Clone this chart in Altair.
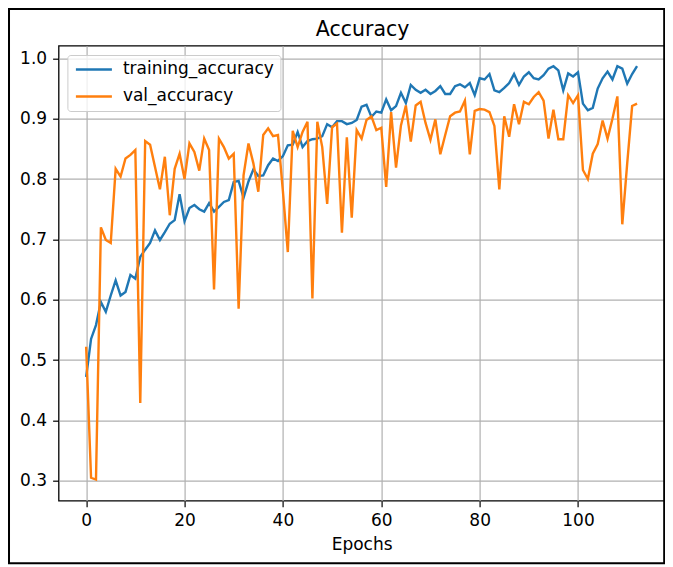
import altair as alt
import pandas as pd

chart_title = "Accuracy"
x_title = "Epochs"

epochs = list(range(113))

training_accuracy = [
    0.472, 0.535, 0.558, 0.596, 0.580, 0.607, 0.632, 0.607, 0.613, 0.641,
    0.635, 0.671, 0.683, 0.694, 0.715, 0.699, 0.712, 0.726, 0.732, 0.775,
    0.730, 0.752, 0.757, 0.750, 0.746, 0.760, 0.746, 0.754, 0.762, 0.765,
    0.795, 0.797, 0.769, 0.796, 0.816, 0.805, 0.806, 0.823, 0.834, 0.830,
    0.838, 0.856, 0.857, 0.878, 0.853, 0.863, 0.866, 0.867, 0.871, 0.891,
    0.886, 0.896, 0.896, 0.891, 0.893, 0.898, 0.920, 0.923, 0.903, 0.912,
    0.910, 0.932, 0.914, 0.921, 0.943, 0.926, 0.956, 0.948, 0.943, 0.948,
    0.941, 0.946, 0.954, 0.941, 0.941, 0.954, 0.957, 0.952, 0.959, 0.939,
    0.967, 0.965, 0.974, 0.947, 0.944, 0.951, 0.959, 0.974, 0.956, 0.970,
    0.977, 0.967, 0.965, 0.972, 0.983, 0.987, 0.980, 0.947, 0.975, 0.970,
    0.977, 0.925, 0.914, 0.918, 0.950, 0.967, 0.978, 0.965, 0.987, 0.983,
    0.958, 0.974, 0.987,
]

val_accuracy = [
    0.522, 0.305, 0.302, 0.720, 0.699, 0.694, 0.817, 0.804, 0.834, 0.840,
    0.848, 0.429, 0.863, 0.857, 0.820, 0.783, 0.837, 0.740, 0.817, 0.842,
    0.800, 0.859, 0.845, 0.814, 0.867, 0.848, 0.617, 0.867, 0.853, 0.834,
    0.842, 0.585, 0.806, 0.859, 0.826, 0.779, 0.873, 0.884, 0.871, 0.873,
    0.780, 0.679, 0.880, 0.853, 0.878, 0.895, 0.602, 0.895, 0.853, 0.759,
    0.886, 0.892, 0.711, 0.869, 0.736, 0.881, 0.867, 0.898, 0.904, 0.881,
    0.885, 0.787, 0.911, 0.819, 0.889, 0.922, 0.862, 0.922, 0.928, 0.893,
    0.865, 0.899, 0.841, 0.873, 0.904, 0.910, 0.912, 0.930, 0.841, 0.913,
    0.916, 0.915, 0.911, 0.888, 0.783, 0.904, 0.870, 0.924, 0.891, 0.928,
    0.924, 0.936, 0.944, 0.930, 0.867, 0.915, 0.866, 0.866, 0.939, 0.926,
    0.939, 0.815, 0.800, 0.842, 0.858, 0.897, 0.867, 0.900, 0.937, 0.725,
    0.826, 0.921, 0.925,
]

series_names = ["training_accuracy", "val_accuracy"]
series_colors = ["#1f77b4", "#ff7f0e"]
x_ticks = [0, 20, 40, 60, 80, 100]
y_ticks = [0.3, 0.4, 0.5, 0.6, 0.7, 0.8, 0.9, 1.0]

n = len(epochs)
df = pd.DataFrame({
    "epoch": epochs + epochs,
    "accuracy": training_accuracy + val_accuracy,
    "series": [series_names[0]] * n + [series_names[1]] * n,
})

FONT = "DejaVu Sans"
PLOT_W = 606
PLOT_H = 455

lines = alt.Chart(df).mark_line(strokeWidth=2.4).encode(
    x=alt.X(
        "epoch:Q",
        scale=alt.Scale(domain=[-5.6, 117.6], nice=False, zero=False),
        axis=alt.Axis(values=x_ticks, format="d", title=x_title, labelFlush=False),
    ),
    y=alt.Y(
        "accuracy:Q",
        scale=alt.Scale(domain=[0.267, 1.021], nice=False, zero=False),
        axis=alt.Axis(values=y_ticks, format=".1f", title=None, labelFlush=False),
    ),
    color=alt.Color(
        "series:N",
        scale=alt.Scale(domain=series_names, range=series_colors),
        legend=alt.Legend(
            title=None,
            orient="none",
            legendX=8.8,
            legendY=9.3,
            symbolType="M-1,0L5,0",
            symbolSize=144,
            symbolStrokeWidth=2.4,
            labelFont=FONT,
            labelFontSize=17,
            labelColor="black",
            labelOffset=32.5,
            labelLimit=400,
            padding=6,
            rowPadding=9,
            fillColor="rgba(255,255,255,0.8)",
            strokeColor="#cccccc",
            cornerRadius=3,
        ),
    ),
)

title_text = alt.Chart(pd.DataFrame({"label": [chart_title]})).mark_text(
    font=FONT, fontSize=20.5, color="black", align="center", baseline="alphabetic"
).encode(
    text="label:N",
    x=alt.value(PLOT_W / 2 + 1),
    y=alt.value(-10),
)

border = alt.Chart(pd.DataFrame({"k": [0]})).mark_rect(
    fill="transparent", stroke="black", strokeWidth=2
).encode(
    x=alt.value(-49.6),
    x2=alt.value(605.6),
    y=alt.value(-36.7),
    y2=alt.value(517.5),
)

chart = alt.layer(lines, title_text, border).properties(
    width=PLOT_W,
    height=PLOT_H,
    padding={"left": 50.6, "top": 37.7, "right": 0, "bottom": 65},
    autosize="none",
).configure_axis(
    grid=True,
    gridColor="#b0b0b0",
    gridWidth=1.2,
    domain=False,
    tickColor="black",
    tickSize=6,
    tickWidth=1.2,
    labelFont=FONT,
    labelFontSize=17,
    labelColor="black",
    labelPadding=6,
    titleFont=FONT,
    titleFontSize=17,
    titleFontWeight="normal",
    titleColor="black",
    titlePadding=8,
).configure_view(
    stroke="black",
    strokeWidth=1.3,
)

chart.save("out.html", embed_options={"renderer": "svg", "actions": False})
